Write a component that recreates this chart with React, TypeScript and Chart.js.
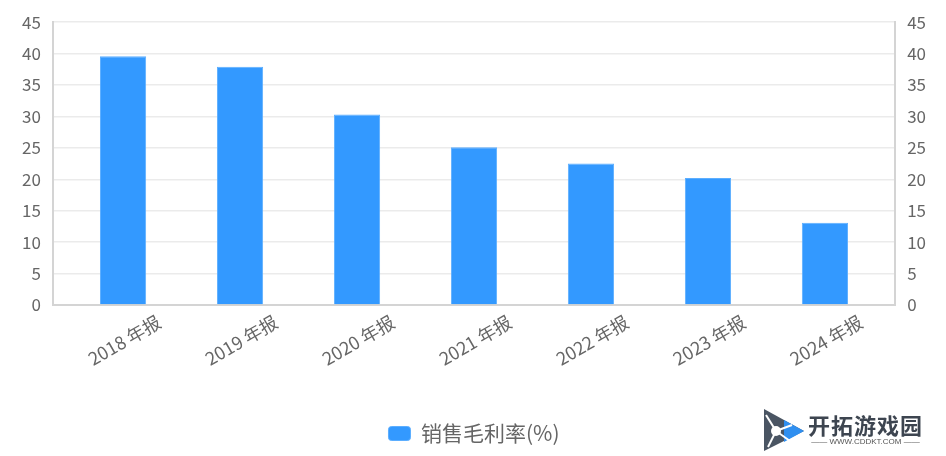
import React, { useEffect, useRef } from "react";
import { Chart, registerables } from "chart.js";

Chart.register(...registerables);

const categories = ["2018 年报", "2019 年报", "2020 年报", "2021 年报", "2022 年报", "2023 年报", "2024 年报"];
const grossMargin = [39.6, 37.9, 30.3, 25.1, 22.5, 20.2, 13.1];
const seriesName = "销售毛利率(%)";
const yMin = 0;
const yMax = 45;
const yStep = 5;

const FONT = "'Noto Sans CJK SC', 'Noto Sans', sans-serif";
const EDGE_GAP = 0.6; // category units between the plot edge and the first/last bar centre

export default function App() {
  const ref = useRef<HTMLCanvasElement | null>(null);

  useEffect(() => {
    document.body.style.margin = "0";
    const canvas = ref.current;
    if (!canvas) return;
    const tickFont = { family: FONT, size: 17 };
    const chart = new Chart(canvas, {
      type: "bar",
      data: {
        labels: categories,
        datasets: [
          {
            label: seriesName,
            data: grossMargin,
            backgroundColor: "#3399ff",
            borderColor: "#5caeff",
            borderWidth: 1,
            barPercentage: 0.79,
            categoryPercentage: 0.5,
          },
        ],
      },
      options: {
        responsive: false,
        animation: false,
        layout: { padding: { top: 15, left: 10, right: 8, bottom: 2 } },
        plugins: {
          tooltip: { enabled: false },
          legend: {
            position: "bottom",
            labels: {
              font: { family: FONT, size: 21 },
              color: "#666",
              boxWidth: 22,
              boxHeight: 14,
              padding: 10,
              useBorderRadius: true,
              borderRadius: 3,
            },
          },
        },
        scales: {
          x: {
            offset: false,
            grid: { display: false, drawTicks: false },
            border: { display: true, color: "#d4d4d4", width: 2 },
            ticks: {
              font: { family: FONT, size: 18 },
              color: "#666",
              minRotation: 30,
              maxRotation: 30,
              padding: 6,
              labelOffset: 36,
            },
            afterBuildTicks: (scale: any) => {
              const n = categories.length;
              scale._startValue = -EDGE_GAP;
              scale._valueRange = n - 1 + 2 * EDGE_GAP;
            },
            afterFit: (axis: any) => {
              axis.height = 108;
            },
          },
          y: {
            position: "left",
            min: yMin,
            max: yMax,
            ticks: { stepSize: yStep, font: tickFont, color: "#666", padding: 12 },
            grid: { color: "#ebebeb", lineWidth: 1.5, drawTicks: false },
            border: { display: true, color: "#d4d4d4", width: 2 },
          },
          y1: {
            position: "right",
            min: yMin,
            max: yMax,
            ticks: { stepSize: yStep, font: tickFont, color: "#666", padding: 12 },
            grid: { display: false, drawTicks: false },
            border: { display: true, color: "#d4d4d4", width: 2 },
          },
        },
      },
    });
    return () => chart.destroy();
  }, []);

  return (
    <div style={{ position: "relative", width: 946, height: 456, background: "#fff", overflow: "hidden" }}>
      <canvas ref={ref} width={946} height={456} style={{ display: "block" }} />
      <div style={{ position: "absolute", left: 762, top: 406, width: 180, height: 46, display: "flex", alignItems: "center" }}>
        <svg width="44" height="44" viewBox="0 0 44 44">
          <polygon points="2,2 42,24 2,44" fill="#4a5563" />
          <polygon points="22,13 42,24 22,35" fill="#2f8ff0" />
          <circle cx="14" cy="24" r="5" fill="#fff" />
          <line x1="14" y1="24" x2="4" y2="8" stroke="#fff" strokeWidth="2" />
          <line x1="14" y1="24" x2="30" y2="18" stroke="#fff" strokeWidth="2" />
          <line x1="14" y1="24" x2="6" y2="40" stroke="#fff" strokeWidth="2" />
          <line x1="14" y1="24" x2="28" y2="34" stroke="#fff" strokeWidth="2" />
        </svg>
        <div style={{ marginLeft: 2, display: "flex", flexDirection: "column", alignItems: "center" }}>
          <div style={{ fontFamily: FONT, fontWeight: 700, fontSize: 22, color: "#3d4550", letterSpacing: 1, lineHeight: "26px" }}>
            开拓游戏园
          </div>
          <div style={{ fontFamily: "'Liberation Sans', sans-serif", fontSize: 8, color: "#555", lineHeight: "10px", whiteSpace: "nowrap" }}>
            —— WWW.CDDKT.COM ——
          </div>
        </div>
      </div>
    </div>
  );
}
